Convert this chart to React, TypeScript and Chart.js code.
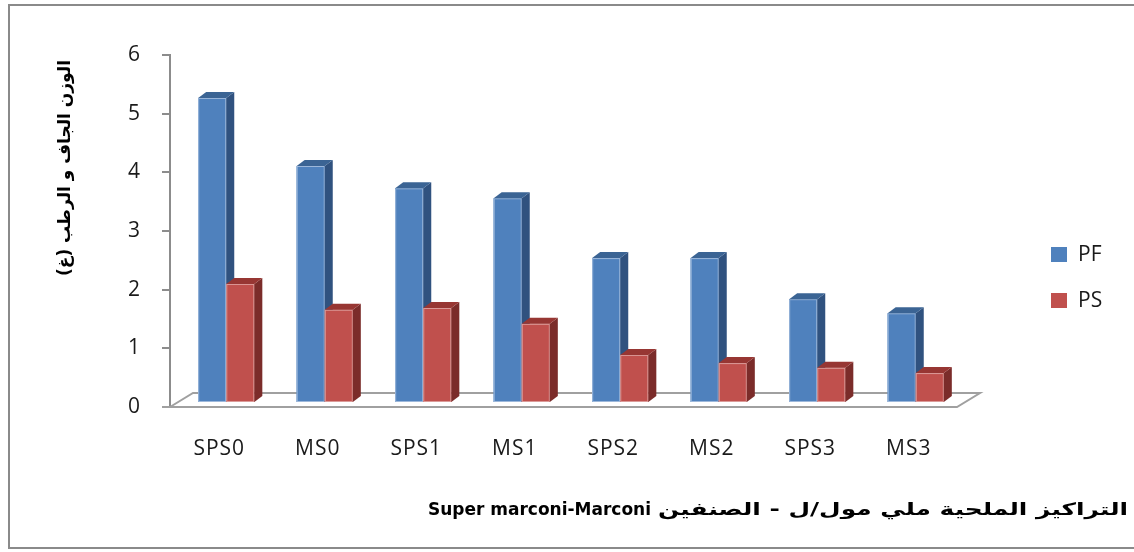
import React, { useEffect, useRef } from 'react';
import { Chart, registerables } from 'chart.js';

Chart.register(...registerables);

const categories = ['SPS0', 'MS0', 'SPS1', 'MS1', 'SPS2', 'MS2', 'SPS3', 'MS3'];
const pfValues = [5.2, 4.04, 3.66, 3.49, 2.47, 2.47, 1.77, 1.53];
const psValues = [2.03, 1.59, 1.62, 1.35, 0.82, 0.68, 0.6, 0.51];
const seriesNames = ['PF', 'PS'];
const yMin = 0;
const yMax = 6;
const yStep = 1;
const yTitle = 'الوزن الجاف و الرطب (غ)';
const xTitleArabic = 'التراكيز الملحية ملي مول/ل - الصنفين';
const xTitleLatin = 'Super marconi-Marconi';

const W = 1134;
const H = 552;
const DX = 8;
const DY = -6;
const SHIFT_X = 7;
const SHIFT_Y = -4;

const faces = [
  { front: '#4F81BD', side: '#30527F', top: '#3B6494', edge: '#9DB8DB' },
  { front: '#C0504D', side: '#7B2C2A', top: '#973633', edge: '#DB9B99' },
];

const bar3d = {
  id: 'bar3d',
  beforeDraw(chart: any) {
    const ctx = chart.ctx;
    ctx.save();
    ctx.fillStyle = '#ffffff';
    ctx.fillRect(0, 0, W, H);
    ctx.strokeStyle = '#8a8a8a';
    ctx.lineWidth = 2;
    ctx.strokeRect(9, 5, W + 20, 543);
    ctx.restore();
    (ctx as any).letterSpacing = '1px';
  },
  beforeDatasetsDraw(chart: any) {
    const ctx = chart.ctx;
    const a = chart.chartArea;
    ctx.save();
    ctx.strokeStyle = '#a0a0a0';
    ctx.lineWidth = 2;
    ctx.beginPath();
    ctx.moveTo(a.left - 8, a.bottom);
    ctx.lineTo(a.right - 1, a.bottom);
    ctx.lineTo(a.right + 22, a.bottom - 14);
    ctx.lineTo(a.left + 23, a.bottom - 14);
    ctx.lineTo(a.left, a.bottom);
    ctx.stroke();
    ctx.restore();
    ctx.save();
    ctx.translate(SHIFT_X, SHIFT_Y);
  },
  afterDatasetsDraw(chart: any) {
    const ctx = chart.ctx;
    const n = categories.length;
    for (let i = 0; i < n; i++) {
      for (let d = 0; d < chart.data.datasets.length; d++) {
        const el = chart.getDatasetMeta(d).data[i];
        if (!el) continue;
        const p = el.getProps(['x', 'y', 'base', 'width'], true);
        const left = p.x - p.width / 2;
        const right = p.x + p.width / 2;
        const top = p.y;
        const base = p.base;
        const c = faces[d];
        ctx.fillStyle = c.front;
        ctx.fillRect(left, top, p.width, base - top);
        ctx.strokeStyle = c.edge;
        ctx.lineWidth = 1;
        ctx.strokeRect(left + 0.5, top + 0.5, p.width - 1, base - top - 1);
        ctx.fillStyle = c.side;
        ctx.beginPath();
        ctx.moveTo(right, top);
        ctx.lineTo(right + DX, top + DY);
        ctx.lineTo(right + DX, base + DY);
        ctx.lineTo(right, base);
        ctx.closePath();
        ctx.fill();
        ctx.fillStyle = c.top;
        ctx.beginPath();
        ctx.moveTo(left, top);
        ctx.lineTo(left + DX, top + DY);
        ctx.lineTo(right + DX, top + DY);
        ctx.lineTo(right, top);
        ctx.closePath();
        ctx.fill();
      }
    }
    ctx.restore();
  },
  afterDraw(chart: any) {
    const ctx = chart.ctx;
    ctx.save();
    (ctx as any).letterSpacing = '0px';
    // legend
    const ly = [254, 300];
    seriesNames.forEach((name, k) => {
      ctx.fillStyle = faces[k].front;
      ctx.fillRect(1051, ly[k] - 7, 16, 15);
      ctx.fillStyle = '#1a1a1a';
      ctx.font = '21px "Open Sans"';
      ctx.textAlign = 'left';
      ctx.textBaseline = 'middle';
      ctx.fillText(name, 1078, ly[k] + 1);
    });
    // y title
    ctx.save();
    ctx.translate(66, 168);
    ctx.rotate(-Math.PI / 2);
    ctx.direction = 'rtl';
    ctx.font = 'bold 17px "DejaVu Sans"';
    ctx.textAlign = 'center';
    ctx.textBaseline = 'middle';
    ctx.fillStyle = '#000';
    ctx.fillText(yTitle, 0, 0);
    ctx.restore();
    // x title: Arabic part on the right, Latin part on the left
    ctx.fillStyle = '#000';
    ctx.textBaseline = 'middle';
    ctx.font = 'bold 17px "DejaVu Sans"';
    const arW = ctx.measureText(xTitleArabic).width;
    const targetAr = 470;
    const sx = targetAr / arW;
    ctx.save();
    ctx.translate(1128, 511);
    ctx.scale(sx, 1);
    ctx.direction = 'rtl';
    ctx.textAlign = 'right';
    ctx.fillText(xTitleArabic, 0, 0);
    ctx.restore();
    ctx.direction = 'ltr';
    ctx.textAlign = 'right';
    ctx.font = 'bold 17px "DejaVu Sans"';
    ctx.fillText(xTitleLatin, 1128 - targetAr - 7, 511);
    ctx.restore();
  },
};

export default function App() {
  const ref = useRef<HTMLCanvasElement | null>(null);
  useEffect(() => {
    if (!ref.current) return;
    const chart = new Chart(ref.current, {
      type: 'bar',
      data: {
        labels: categories,
        datasets: [
          { label: seriesNames[0], data: pfValues, backgroundColor: faces[0].front, categoryPercentage: 0.57, barPercentage: 1 },
          { label: seriesNames[1], data: psValues, backgroundColor: faces[1].front, categoryPercentage: 0.57, barPercentage: 1 },
        ],
      },
      options: {
        responsive: false,
        animation: false,
        devicePixelRatio: 1,
        layout: { padding: { top: 55, right: 176, left: 0, bottom: 0 } },
        plugins: { legend: { display: false }, tooltip: { enabled: false } },
        scales: {
          x: {
            grid: { display: false, drawTicks: false },
            border: { display: false },
            ticks: { padding: 29, color: '#1a1a1a', font: { family: 'Open Sans', size: 21 } },
            afterFit: (s: any) => { s.height = H - 407; },
          },
          y: {
            min: yMin,
            max: yMax,
            grid: { drawOnChartArea: false, drawTicks: true, tickLength: 8, color: '#8c8c8c', lineWidth: 2 },
            border: { display: true, color: '#8c8c8c', width: 2 },
            ticks: { stepSize: yStep, padding: 21, color: '#1a1a1a', font: { family: 'Open Sans', size: 21 } },
            afterFit: (s: any) => { s.width = 170; },
          },
        },
      },
      plugins: [bar3d],
    });
    return () => chart.destroy();
  }, []);
  return (
    <div style={{ position: 'fixed', left: 0, top: 0, width: W, height: H, background: '#fff' }}>
      <canvas ref={ref} width={W} height={H} style={{ display: 'block' }} />
    </div>
  );
}
